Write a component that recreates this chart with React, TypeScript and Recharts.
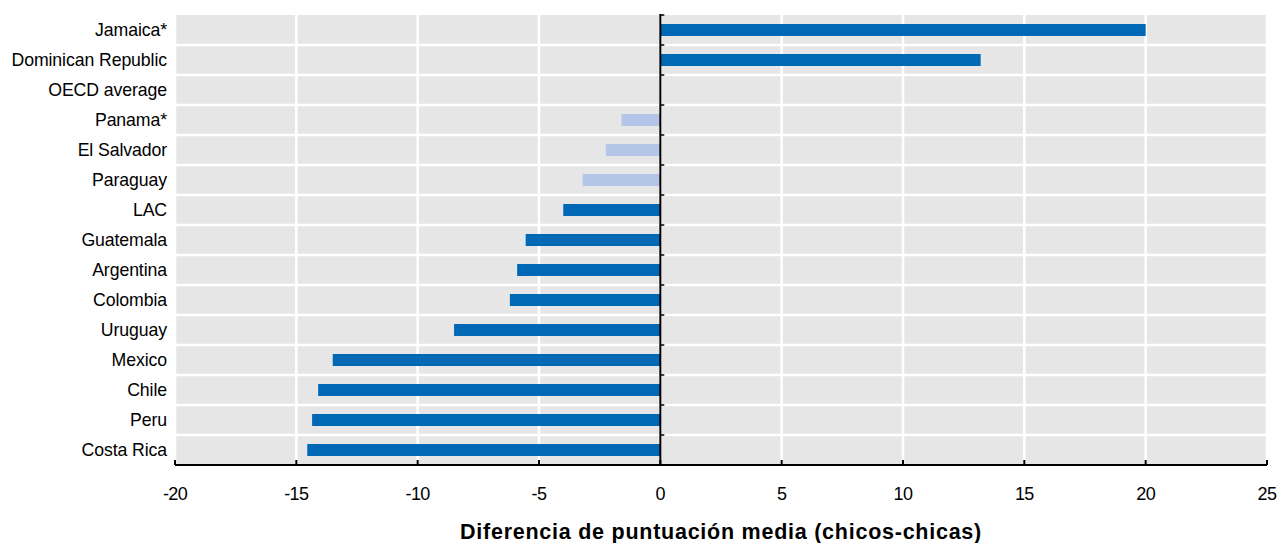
import React from "react";
import { BarChart, Bar, XAxis, YAxis, CartesianGrid, ReferenceLine, Cell } from "recharts";

const countries = [
  "Jamaica*",
  "Dominican Republic",
  "OECD average",
  "Panama*",
  "El Salvador",
  "Paraguay",
  "LAC",
  "Guatemala",
  "Argentina",
  "Colombia",
  "Uruguay",
  "Mexico",
  "Chile",
  "Peru",
  "Costa Rica",
];
const gaps: (number | null)[] = [20.0, 13.2, null, -1.6, -2.25, -3.2, -4.0, -5.55, -5.9, -6.2, -8.5, -13.5, -14.1, -14.35, -14.55];
const notSignificant = ["Panama*", "El Salvador", "Paraguay"];
const xTicks = [-20, -15, -10, -5, 0, 5, 10, 15, 20, 25];
const axisTitle = "Diferencia de puntuación media (chicos-chicas)";

const DARK = "#0068b5";
const LIGHT = "#b3c6e8";
const FONT = "'Liberation Sans', Arial, sans-serif";

const data = countries.map((c, i) => ({ country: c, gap: gaps[i] }));

const XTick = (props: any) => {
  const { x, y, payload } = props;
  return (
    <g>
      <line x1={x} x2={x} y1={y} y2={y - 5} stroke="#000" strokeWidth={2} />
      <text x={x} y={y + 35} textAnchor="middle" fontFamily={FONT} fontSize={18} fill="#000" letterSpacing={-0.6}>
        {payload.value}
      </text>
    </g>
  );
};

const YTick = (props: any) => {
  const { x, y, payload } = props;
  return (
    <text x={x} y={y} dy={6} textAnchor="end" fontFamily={FONT} fontSize={17.7} fill="#000" letterSpacing={-0.1}>
      {payload.value}
    </text>
  );
};

const ZeroLine = (props: any) => {
  const { x1, y1, y2 } = props;
  const top = Math.min(y1, y2);
  const bottom = Math.max(y1, y2);
  const n = countries.length;
  const marks = [];
  for (let i = 0; i <= n; i++) {
    const yy = top + ((bottom - top) * i) / n;
    marks.push(<line key={i} x1={x1} x2={x1 + 4} y1={yy} y2={yy} stroke="#000" strokeWidth={1.5} />);
  }
  return (
    <g>
      <line x1={x1} x2={x1} y1={top - 1} y2={bottom} stroke="#000" strokeWidth={2} />
      {marks}
    </g>
  );
};

export default function App() {
  return (
    <div style={{ position: "absolute", left: 0, top: 0, background: "#fff" }}>
      <BarChart
        width={1285}
        height={543}
        data={data}
        layout="vertical"
        margin={{ top: 15, right: 18, bottom: 0, left: 0 }}
        barSize={12}
      >
        <CartesianGrid
          fill="#e6e6e6"
          stroke="#ffffff"
          strokeWidth={2.5}
          horizontalCoordinatesGenerator={({ offset }: any) => {
            const n = countries.length;
            const arr: number[] = [];
            for (let i = 1; i < n; i++) arr.push(offset.top + (offset.height * i) / n);
            return arr;
          }}
        />
        <XAxis
          type="number"
          domain={[-20, 25]}
          ticks={xTicks}
          interval={0}
          height={78}
          tickSize={0}
          tickMargin={0}
          tickLine={false}
          axisLine={{ stroke: "#000", strokeWidth: 2 }}
          tick={<XTick />}
          label={{
            value: axisTitle,
            position: "insideBottom",
            offset: 4,
            style: { fontFamily: FONT, fontWeight: "bold", fontSize: 21.5, letterSpacing: 0.75, fill: "#000" },
          }}
        />
        <YAxis
          type="category"
          dataKey="country"
          width={175}
          tickSize={0}
          tickMargin={8}
          tickLine={false}
          axisLine={false}
          interval={0}
          tick={<YTick />}
        />
        <Bar dataKey="gap" isAnimationActive={false}>
          {data.map((d) => (
            <Cell key={d.country} fill={notSignificant.includes(d.country) ? LIGHT : DARK} />
          ))}
        </Bar>
        <ReferenceLine x={0} stroke="#000" shape={<ZeroLine />} />
      </BarChart>
    </div>
  );
}
